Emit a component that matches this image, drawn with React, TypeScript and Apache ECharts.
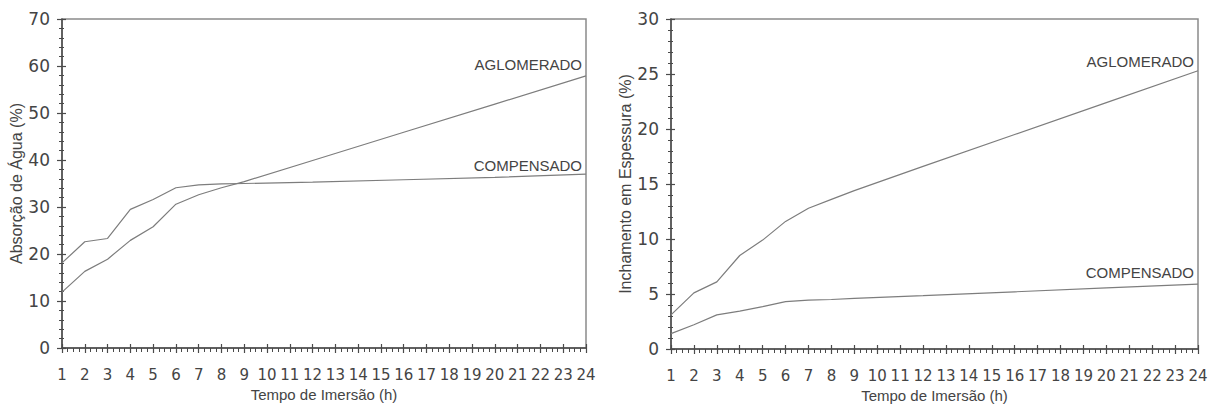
import React, { useEffect, useRef } from "react";
import * as echarts from "echarts";

// Tempo de imersão (h) at which values were read
const hours = [1, 2, 3, 4, 5, 6, 7, 8, 9, 12, 16, 20, 24];

// Absorção de Água (%)
const absorcaoAglomerado = [11.9, 16.3, 18.9, 22.9, 25.8, 30.6, 32.6, 34.1, 35.4, 39.9, 45.9, 51.9, 57.9];
const absorcaoCompensado = [18.1, 22.6, 23.3, 29.5, 31.6, 34.1, 34.7, 34.9, 35.0, 35.3, 35.8, 36.3, 37.0];

// Inchamento em Espessura (%)
const inchamentoAglomerado = [3.1, 5.1, 6.1, 8.5, 9.9, 11.6, 12.8, 13.6, 14.4, 16.6, 19.5, 22.4, 25.3];
const inchamentoCompensado = [1.4, 2.2, 3.1, 3.45, 3.85, 4.3, 4.45, 4.5, 4.6, 4.85, 5.2, 5.55, 5.9];

const xTitle = "Tempo de Imersão (h)";
const yTitleLeft = "Absorção de Água (%)";
const yTitleRight = "Inchamento em Espessura (%)";
const nameAglomerado = "AGLOMERADO";
const nameCompensado = "COMPENSADO";

const AXIS_COLOR = "#4a4a4a";
const LINE_COLOR = "#7d7d7d";
const TEXT_COLOR = "#444444";
const TICK_FONT = "DejaVu Sans";
const TITLE_FONT = "Liberation Sans";

const pairs = (ys: number[]) => hours.map((h, i) => [h, ys[i]]);

function xAxesFor(gridIndex: number) {
  const base = {
    type: "value" as const,
    gridIndex,
    min: 1,
    max: 24,
    interval: 1,
    position: "bottom" as const,
    splitLine: { show: false },
    minorSplitLine: { show: false },
  };
  return [
    {
      ...base,
      name: xTitle,
      nameLocation: "middle" as const,
      nameGap: 38,
      nameTextStyle: { fontFamily: TITLE_FONT, fontSize: 15, color: TEXT_COLOR },
      axisLine: { show: true, lineStyle: { color: AXIS_COLOR, width: 1.5 } },
      axisTick: { show: true, inside: false, length: 5, lineStyle: { color: AXIS_COLOR, width: 1.2 } },
      minorTick: { show: true, splitNumber: 4, length: 4, lineStyle: { color: AXIS_COLOR, width: 1 } },
      axisLabel: { fontFamily: TICK_FONT, fontSize: 15, color: TEXT_COLOR, margin: 19 },
    },
    {
      ...base,
      axisLine: { show: false },
      axisTick: { show: true, inside: true, length: 4, lineStyle: { color: AXIS_COLOR, width: 1.2 } },
      minorTick: { show: false },
      axisLabel: { show: false },
    },
  ];
}

function yAxesFor(gridIndex: number, max: number, interval: number, title: string, gap: number) {
  const base = {
    type: "value" as const,
    gridIndex,
    min: 0,
    max,
    interval,
    position: "left" as const,
    splitLine: { show: false },
    minorSplitLine: { show: false },
  };
  return [
    {
      ...base,
      name: title,
      nameLocation: "middle" as const,
      nameGap: gap,
      nameRotate: 90,
      nameTextStyle: { fontFamily: TITLE_FONT, fontSize: 16, color: TEXT_COLOR },
      axisLine: { show: true, lineStyle: { color: AXIS_COLOR, width: 1.5 } },
      axisTick: { show: true, inside: false, length: 5, lineStyle: { color: AXIS_COLOR, width: 1.2 } },
      minorTick: { show: true, splitNumber: 5, length: 3, lineStyle: { color: AXIS_COLOR, width: 1 } },
      axisLabel: { fontFamily: TICK_FONT, fontSize: 17, color: TEXT_COLOR, margin: 12 },
    },
    {
      ...base,
      axisLine: { show: false },
      axisTick: { show: true, inside: true, length: 4, lineStyle: { color: AXIS_COLOR, width: 1.2 } },
      minorTick: { show: true, splitNumber: 5, length: 2, lineStyle: { color: AXIS_COLOR, width: 1 } },
      axisLabel: { show: false },
    },
  ];
}

function lineSeries(name: string, ys: number[], xAxisIndex: number, yAxisIndex: number, offsetY: number) {
  return {
    type: "line" as const,
    name,
    xAxisIndex,
    yAxisIndex,
    data: pairs(ys),
    showSymbol: false,
    symbol: "none",
    lineStyle: { color: LINE_COLOR, width: 1.2 },
    endLabel: {
      show: true,
      formatter: () => name,
      align: "right",
      verticalAlign: "bottom",
      distance: 0,
      offset: [-4, offsetY],
      fontFamily: TITLE_FONT,
      fontSize: 15,
      color: TEXT_COLOR,
    },
  };
}

export default function App() {
  const ref = useRef<HTMLDivElement>(null);

  useEffect(() => {
    if (!ref.current) return;
    const chart = echarts.init(ref.current, null, { renderer: "svg" });
    chart.setOption({
      animation: false,
      backgroundColor: "#ffffff",
      grid: [
        { left: 62, top: 19, width: 524, height: 329, show: true, borderColor: "#8a8a8a", borderWidth: 1.5, backgroundColor: "transparent" },
        { left: 671, top: 19, width: 527, height: 330, show: true, borderColor: "#8a8a8a", borderWidth: 1.5, backgroundColor: "transparent" },
      ],
      xAxis: [...xAxesFor(0), ...xAxesFor(1)],
      yAxis: [
        ...yAxesFor(0, 70, 10, yTitleLeft, 36),
        ...yAxesFor(1, 30, 5, yTitleRight, 34),
      ],
      series: [
        lineSeries(nameAglomerado, absorcaoAglomerado, 0, 0, -4),
        lineSeries(nameCompensado, absorcaoCompensado, 0, 0, -1),
        lineSeries(nameAglomerado, inchamentoAglomerado, 2, 2, -2),
        lineSeries(nameCompensado, inchamentoCompensado, 2, 2, -4),
      ],
    });
    return () => chart.dispose();
  }, []);

  return (
    <div
      ref={ref}
      style={{ position: "fixed", left: 0, top: 0, width: 1213, height: 408, background: "#fff" }}
    />
  );
}
